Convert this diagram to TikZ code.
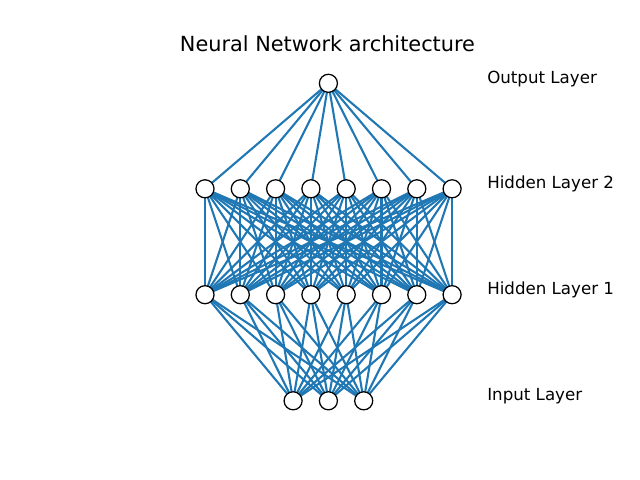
\documentclass[tikz,border=0pt]{standalone}
\usepackage{fontspec}
\setmainfont{DejaVu Sans}
\usetikzlibrary{positioning,backgrounds}
\definecolor{netblue}{HTML}{1F77B4}
\tikzset{
  neuron/.style={circle,draw=black,fill=white,line width=0.9pt,minimum size=13pt,inner sep=0pt},
  link/.style={draw=netblue,line width=1.5pt},
  layerlabel/.style={anchor=base west,inner sep=0pt,font=\fontsize{12}{14}\selectfont}
}

\begin{document}
\begin{tikzpicture}[x=0.72pt,y=-0.72pt]
    \useasboundingbox (0,0) rectangle (640,480);
    \node at (327.5, 51) [anchor=base,inner sep=0pt] (title) {\fontsize{15}{18}\selectfont Neural Network architecture};

    % neurons
    \node at (328.4, 83.3) [neuron] (out) {};
    \foreach \i in {1,...,8} {
        \node at ({205+35.3*(\i-1)}, 188.8) [neuron] (hb\i) {};
        \node at ({205+35.3*(\i-1)}, 294.7) [neuron] (ha\i) {};
    }
    \node at (293.1, 400.8) [neuron] (in1) {};
    \node at (328.4, 400.8) [neuron] (in2) {};
    \node at (363.7, 400.8) [neuron] (in3) {};

    % connections
    \begin{pgfonlayer}{background}
    \foreach \i in {1,...,8} {
        \draw[link] (hb\i.center) -- (out.center);
        \foreach \j in {1,...,8}
            \draw[link] (ha\j.center) -- (hb\i.center);
        \foreach \k in {1,2,3}
            \draw[link] (in\k.center) -- (ha\i.center);
    }
    \end{pgfonlayer}

    % layer names
    \node at (487, 83.3) [layerlabel] (lout) {Output Layer};
    \node at (487, 188.8) [layerlabel] (lhb) {Hidden Layer 2};
    \node at (487, 294.7) [layerlabel] (lha) {Hidden Layer 1};
    \node at (487, 400.8) [layerlabel] (lin) {Input Layer};
\end{tikzpicture}
\end{document}
